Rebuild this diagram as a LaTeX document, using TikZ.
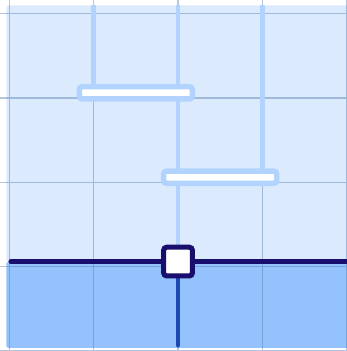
\documentclass[tikz,border=0pt]{standalone}
\usepackage{tikz}
\usetikzlibrary{backgrounds}
\definecolor{skyfill}{RGB}{220,234,254}
\definecolor{deepfill}{RGB}{148,194,252}
\definecolor{wirecol}{RGB}{179,211,255}
\definecolor{navy}{RGB}{23,14,110}
\definecolor{downcol}{RGB}{27,72,178}
\definecolor{gridcol}{RGB}{80,122,173}
\tikzstyle{wire}=[draw=wirecol,line width=1.6pt]
\tikzstyle{barbox}=[rectangle,draw=wirecol,fill=white,line width=1.85pt,rounded corners=1pt,inner sep=0pt,minimum width=1.34cm,minimum height=0.145cm]
\tikzstyle{sqbox}=[rectangle,draw=navy,fill=white,line width=1.7pt,rounded corners=1pt,inner sep=0pt,minimum size=0.34cm]

\begin{document}
\begin{tikzpicture}
    \useasboundingbox (-0.11,-1) rectangle (4,3.16);
    \node[barbox] (B1) at (1.5,2.06) {};
    \node[barbox] (B2) at (2.5,1.06) {};
    \node[sqbox] (S) at (2,0.06) {};
    \coordinate (T1) at (1,3.095);
    \coordinate (T2) at (2,3.095);
    \coordinate (T3) at (3,3.095);
    \coordinate (L) at (0.02,0.06);
    \coordinate (R) at (4.1,0.06);
    \coordinate (D) at (2,-0.93);
    \begin{scope}[on background layer]
      \fill[skyfill,rounded corners=0.7pt] (-0.033,0.06) rectangle (4.1,3.095);
      \fill[deepfill,rounded corners=0.7pt] (-0.033,-0.963) rectangle (4.1,0.06);
      \draw[gridcol,opacity=0.43,line width=0.45pt] (-0.11,-1) grid (4,3.16);
      \draw[wire] (T1) -- (T1 |- B1);
      \draw[wire] (T2) -- (S);
      \draw[wire] (T3) -- (T3 |- B2);
      \draw[navy,line width=1.7pt,line cap=round] (L) -- (R);
      \draw[downcol,line width=1.6pt,line cap=round] (S) -- (D);
    \end{scope}
  \end{tikzpicture}
\end{document}
